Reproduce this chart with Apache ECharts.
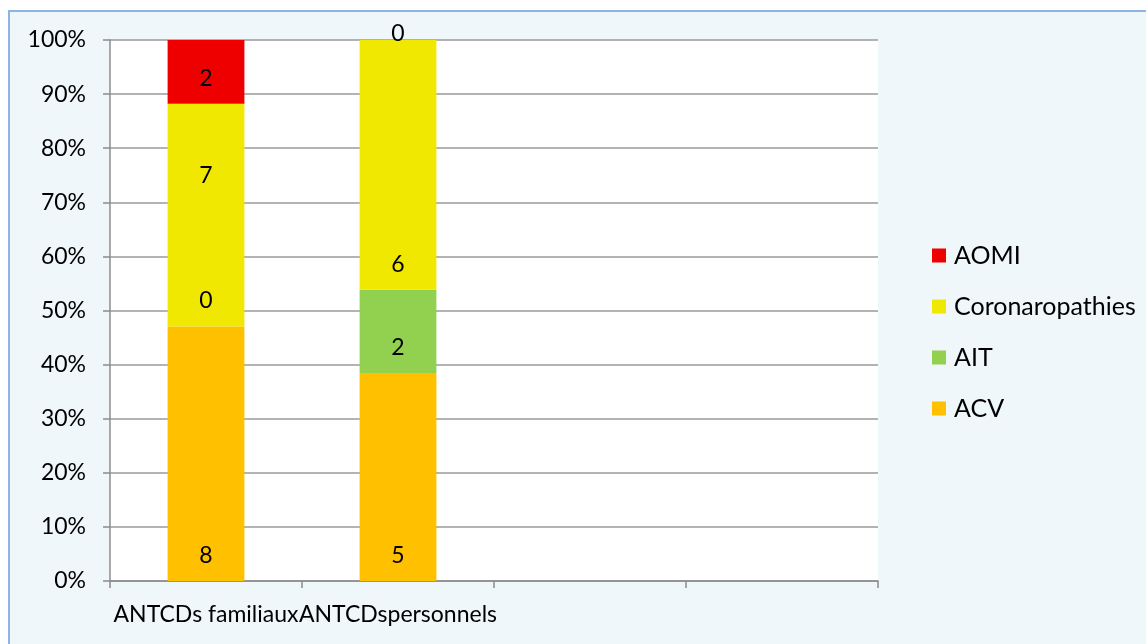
<!DOCTYPE html>
<html><head><meta charset="utf-8">
<script src="https://cdn.jsdelivr.net/npm/echarts@6/dist/echarts.min.js"></script>
<style>html,body{margin:0;padding:0;background:#fff}#c{width:1146px;height:644px}</style>
</head><body><div id="c"></div>
<script>
const categories = ['ANTCDs familiaux', 'ANTCDspersonnels', '', ''];
const seriesNames = ['ACV', 'AIT', 'Coronaropathies', 'AOMI'];
const acv = [8, 5, null, null];
const ait = [0, 2, null, null];
const coronaro = [7, 6, null, null];
const aomi = [2, 0, null, null];
const yTicks = [0, 10, 20, 30, 40, 50, 60, 70, 80, 90, 100];

const counts = [acv, ait, coronaro, aomi];
const colors = ['#FFC000', '#92D050', '#F0E800', '#EE0000'];
const totals = categories.map((c, i) => counts.reduce((s, a) => s + (a[i] || 0), 0));
// label nudges as in the original (style only)
const labelOffsets = {'2-0': [0, -125], '3-1': [0, 19]};
const FONT = 'Lato, "Open Sans", sans-serif';

const series = counts.map((arr, si) => ({
  name: seriesNames[si],
  type: 'bar',
  stack: 'total',
  barWidth: '40%',
  itemStyle: {color: colors[si]},
  data: arr.map((v, i) => {
    if (v == null) return null;
    const d = {value: totals[i] ? v / totals[i] * 100 : 0, raw: v};
    const off = labelOffsets[si + '-' + i];
    if (off) d.label = {offset: off};
    return d;
  }),
  label: {
    show: true, position: 'insideBottom', distance: 14, color: '#000', fontSize: 23, fontFamily: FONT,
    formatter: p => p.data && p.data.raw != null ? String(p.data.raw) : ''
  }
}));

const chart = echarts.init(document.getElementById('c'));
chart.setOption({
  animation: false,
  graphic: [{type: 'rect', z: -10, shape: {x: 9, y: 11, width: 1200, height: 700},
    style: {fill: '#EFF7FA', stroke: '#8DB4E2', lineWidth: 2}}],
  grid: {left: 110, top: 40, right: 268, bottom: 63, show: true, backgroundColor: '#fff', borderWidth: 0},
  legend: {
    orient: 'vertical', left: 932, top: 243, padding: 0,
    data: ['AOMI', 'Coronaropathies', 'AIT', 'ACV'],
    itemWidth: 14, itemHeight: 14, itemGap: 26, icon: 'rect',
    textStyle: {fontSize: 25, fontFamily: FONT, color: '#000', padding: [0, 0, 0, 3]}
  },
  xAxis: {
    type: 'category', data: categories,
    axisLine: {lineStyle: {color: '#8c8c8c', width: 1.5}},
    axisTick: {show: true, length: 7, lineStyle: {color: '#8c8c8c', width: 1.5}},
    axisLabel: {color: '#000', fontSize: 23, fontFamily: FONT, margin: 22, interval: 0}
  },
  yAxis: {
    type: 'value', min: 0, max: 100, interval: 10,
    axisLine: {show: true, lineStyle: {color: '#8c8c8c', width: 1.5}},
    axisTick: {show: true, length: 7, lineStyle: {color: '#8c8c8c', width: 1.5}},
    splitLine: {lineStyle: {color: '#9a9a9a', width: 1.5}},
    axisLabel: {color: '#000', fontSize: 23, fontFamily: FONT, margin: 24,
      formatter: v => yTicks.includes(v) ? v + '%' : ''}
  },
  series: series
});
</script></body></html>
